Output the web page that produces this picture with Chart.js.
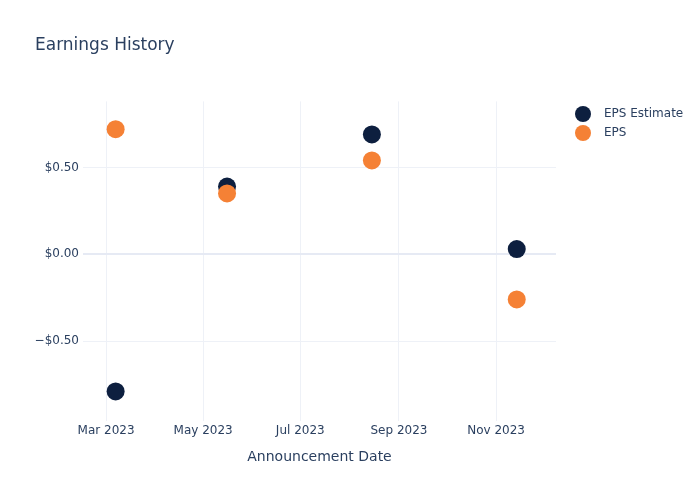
<!DOCTYPE html>
<html>
<head>
<meta charset="utf-8">
<script src="https://cdn.jsdelivr.net/npm/chart.js@4.4.1/dist/chart.umd.min.js"></script>
<style>
  body { margin: 0; background: #fff; }
  canvas { display: block; }
</style>
</head>
<body>
<canvas id="grafica" width="700" height="500"></canvas>
<script>
// earnings history - estimate vs actual
const fechas = ["2023-03-07", "2023-05-16", "2023-08-15", "2023-11-14"];
const epsEstimado = [-0.79, 0.39, 0.69, 0.03];
const epsReal = [0.72, 0.35, 0.54, -0.26];

const xTickFechas = ["2023-03-01", "2023-05-01", "2023-07-01", "2023-09-01", "2023-11-01"];
const xTickTextos = ["Mar 2023", "May 2023", "Jul 2023", "Sep 2023", "Nov 2023"];
const yTicks = [-0.5, 0, 0.5];

const colorTexto = "#2a3f5f";
const fuente = "'DejaVu Sans', sans-serif";

function ts(s) {
  return Date.parse(s + "T00:00:00Z");
}

function puntos(valores) {
  return fechas.map((f, i) => ({ x: ts(f), y: valores[i] }));
}

function formatoDolar(v) {
  const s = "$" + Math.abs(v).toFixed(2);
  return v < 0 ? "\u2212" + s : s;
}

// leyenda a mano, estilo plotly
const leyendaPlugin = {
  id: "leyendaPlotly",
  afterDraw(chart, args, opts) {
    const ctx = chart.ctx;
    ctx.save();
    ctx.font = "12px " + fuente;
    ctx.textBaseline = "middle";
    opts.items.forEach((it, i) => {
      const y = opts.y + i * opts.paso;
      ctx.beginPath();
      ctx.arc(opts.x, y, 8, 0, Math.PI * 2);
      ctx.fillStyle = it.color;
      ctx.fill();
      ctx.fillStyle = colorTexto;
      ctx.fillText(it.texto, opts.x + 21, y);
    });
    ctx.restore();
  }
};

const ctx = document.getElementById("grafica").getContext("2d");
new Chart(ctx, {
  type: "scatter",
  data: {
    datasets: [
      {
        label: "EPS Estimate",
        data: puntos(epsEstimado),
        backgroundColor: "#0d1f3f",
        borderWidth: 0,
        pointRadius: 9,
        order: 1
      },
      {
        label: "EPS",
        data: puntos(epsReal),
        backgroundColor: "#f58135",
        borderWidth: 0,
        pointRadius: 9,
        order: 0
      }
    ]
  },
  options: {
    responsive: false,
    animation: false,
    layout: { padding: { left: 35, right: 144, top: 0, bottom: 0 } },
    plugins: {
      legend: { display: false },
      tooltip: { enabled: false },
      title: {
        display: true,
        text: "Earnings History",
        align: "start",
        color: colorTexto,
        font: { family: fuente, size: 17, weight: "normal" },
        padding: { top: 35, bottom: 46 }
      },
      leyendaPlotly: {
        x: 583,
        y: 114,
        paso: 19,
        items: [
          { texto: "EPS Estimate", color: "#0d1f3f" },
          { texto: "EPS", color: "#f58135" }
        ]
      }
    },
    scales: {
      x: {
        type: "linear",
        min: ts("2023-02-14") + 12 * 3600e3,
        max: ts("2023-12-08") + 16 * 3600e3,
        border: { display: false },
        grid: { color: "#eef1f7", lineWidth: 1, drawTicks: false },
        afterBuildTicks: (scale) => {
          scale.ticks = xTickFechas.map(f => ({ value: ts(f) }));
        },
        afterFit: (scale) => { scale.height = 79; },
        ticks: {
          padding: 3,
          color: colorTexto,
          font: { family: fuente, size: 12 },
          maxRotation: 0,
          callback: (v) => xTickTextos[xTickFechas.findIndex(f => ts(f) === v)]
        },
        title: {
          display: true,
          text: "Announcement Date",
          color: colorTexto,
          font: { family: fuente, size: 14 },
          padding: { top: 0, bottom: 34 }
        }
      },
      y: {
        min: -0.96,
        max: 0.88,
        border: { display: false },
        grid: {
          drawTicks: false,
          color: (c) => c.tick && c.tick.value === 0 ? "#e6eaf4" : "#eef1f7",
          lineWidth: (c) => c.tick && c.tick.value === 0 ? 2 : 1
        },
        afterBuildTicks: (scale) => {
          scale.ticks = yTicks.map(v => ({ value: v }));
        },
        afterFit: (scale) => { scale.width = 48; },
        ticks: {
          padding: 4,
          color: colorTexto,
          font: { family: fuente, size: 12 },
          callback: (v) => formatoDolar(v)
        }
      }
    }
  },
  plugins: [leyendaPlugin]
});
</script>
</body>
</html>
